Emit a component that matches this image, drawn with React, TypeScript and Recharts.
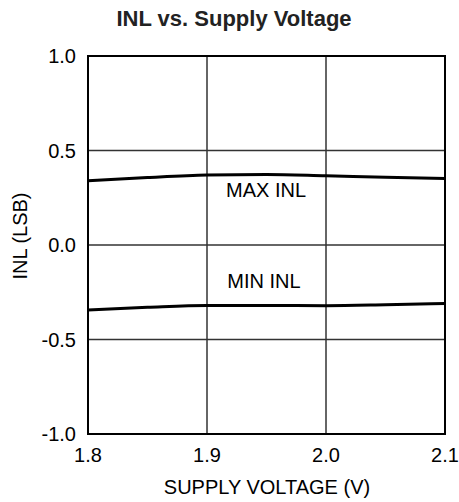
import { LineChart, Line, XAxis, YAxis, CartesianGrid, ReferenceArea } from 'recharts';

const voltage = [1.8, 1.85, 1.9, 1.95, 2.0, 2.05, 2.1];
const maxInl = [0.34, 0.357, 0.37, 0.373, 0.366, 0.358, 0.352];
const minInl = [-0.344, -0.33, -0.32, -0.32, -0.321, -0.316, -0.309];
const xTicks = [1.8, 1.9, 2.0, 2.1];
const yTicks = [-1.0, -0.5, 0.0, 0.5, 1.0];

const data = voltage.map((v, i) => ({ v, max: maxInl[i], min: minInl[i] }));

const FONT = '"Liberation Sans", Arial, sans-serif';

export default function App() {
  return (
    <div style={{ position: 'absolute', left: 0, top: 0, width: 459, height: 502, background: '#fff', fontFamily: FONT }}>
      <LineChart width={459} height={502} data={data} margin={{ top: 56, right: 14, bottom: 0, left: 28 }}>
        <text x={234} y={26} textAnchor="middle" fontSize={22} fontWeight="bold" fill="#222" fontFamily={FONT}>
          INL vs. Supply Voltage
        </text>
        <CartesianGrid stroke="#333" strokeWidth={1.5} />
        <XAxis
          dataKey="v"
          type="number"
          domain={[1.8, 2.1]}
          ticks={xTicks}
          tickFormatter={(t: number) => t.toFixed(1)}
          axisLine={false}
          tickLine={false}
          height={68}
          tickMargin={8}
          tick={{ fontSize: 20, fill: '#000', fontFamily: FONT }}
        />
        <YAxis
          type="number"
          domain={[-1, 1]}
          ticks={yTicks}
          tickFormatter={(t: number) => t.toFixed(1)}
          axisLine={false}
          tickLine={false}
          width={60}
          tickMargin={6}
          tick={{ fontSize: 20, fill: '#000', fontFamily: FONT }}
        />
        <ReferenceArea x1={1.8} x2={2.1} y1={-1} y2={1} fill="none" stroke="#000" strokeWidth={2} ifOverflow="visible" />
        <Line type="monotone" dataKey="max" stroke="#000" strokeWidth={3} dot={false} isAnimationActive={false} />
        <Line type="monotone" dataKey="min" stroke="#000" strokeWidth={3} dot={false} isAnimationActive={false} />
        <text x={266} y={197} textAnchor="middle" fontSize={20} fill="#000" fontFamily={FONT}>MAX INL</text>
        <text x={264} y={288} textAnchor="middle" fontSize={20} fill="#000" fontFamily={FONT}>MIN INL</text>
        <text x={267} y={494} textAnchor="middle" fontSize={20} fill="#000" fontFamily={FONT}>SUPPLY VOLTAGE (V)</text>
        <text x={27} y={236} textAnchor="middle" fontSize={20} fill="#000" fontFamily={FONT} transform="rotate(-90 27 236)">INL (LSB)</text>
      </LineChart>
    </div>
  );
}
